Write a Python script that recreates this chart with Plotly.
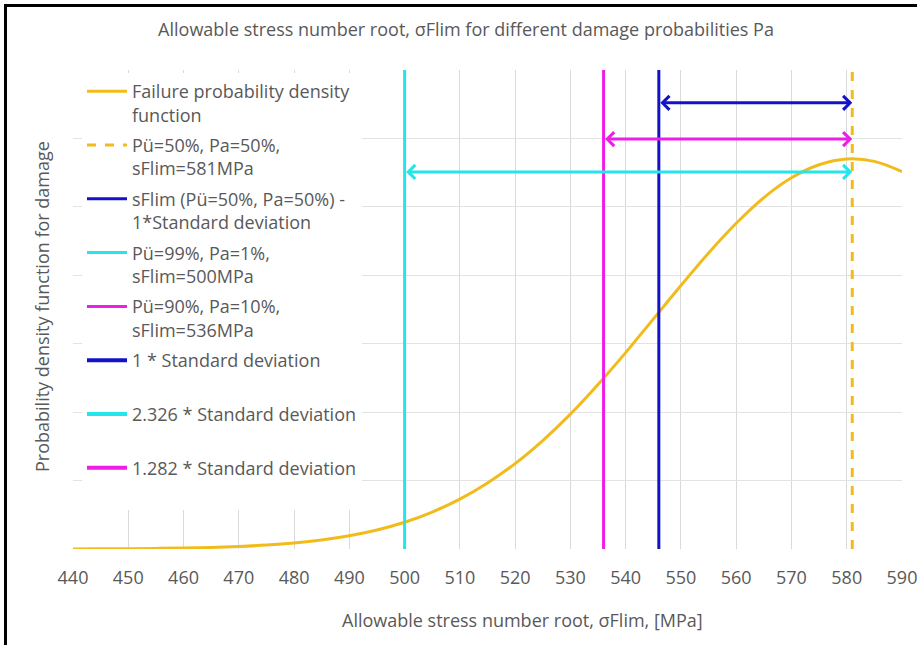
import plotly.graph_objects as go

# ---- data ----
stress_mpa = [440, 445, 450, 455, 460, 465, 470, 475, 480, 485, 490, 495, 500, 505, 510,
              515, 520, 525, 530, 535, 540, 545, 550, 555, 560, 565, 570, 575, 580, 585, 590]
density = [0.000003, 0.000006, 0.000010, 0.000018, 0.000029, 0.000047, 0.000075, 0.000116,
           0.000177, 0.000265, 0.000388, 0.000557, 0.000783, 0.00108, 0.001456, 0.00193,
           0.002496, 0.00317, 0.003942, 0.00481, 0.00574, 0.00672, 0.0077, 0.00865, 0.00952,
           0.01027, 0.01085, 0.01123, 0.0114, 0.01133, 0.01103]

sflim_50 = 581
sflim_1sd = 546
sflim_1 = 500
sflim_10 = 536

arrow_levels = {"blue": 0.01304, "magenta": 0.01198, "cyan": 0.01102}

x_ticks = list(range(440, 591, 10))
y_range = [0, 0.014]

GOLD = "#F1BC1B"
BLUE = "#1212C8"
CYAN = "#22E6EA"
MAGENTA = "#EE1EE6"
GREY = "#595959"
FONT = "Open Sans"

fig = go.Figure()

fig.add_trace(go.Scatter(x=stress_mpa, y=density, mode="lines", line=dict(color=GOLD, width=3, shape="spline"),
                         name="Failure probability density<br>function", legendgroup="a"))
fig.add_trace(go.Scatter(x=[sflim_50, sflim_50], y=y_range, mode="lines", line=dict(color=GOLD, width=3, dash="dash"),
                         name="Pü=50%, Pa=50%,<br>sFlim=581MPa", legendgroup="b"))
fig.add_trace(go.Scatter(x=[sflim_1sd, sflim_1sd], y=y_range, mode="lines", line=dict(color=BLUE, width=3),
                         name="sFlim (Pü=50%, Pa=50%) -<br>1*Standard deviation", legendgroup="c"))
fig.add_trace(go.Scatter(x=[sflim_1, sflim_1], y=y_range, mode="lines", line=dict(color=CYAN, width=3),
                         name="Pü=99%, Pa=1%,<br>sFlim=500MPa", legendgroup="d"))
fig.add_trace(go.Scatter(x=[sflim_10, sflim_10], y=y_range, mode="lines", line=dict(color=MAGENTA, width=3),
                         name="Pü=90%, Pa=10%,<br>sFlim=536MPa", legendgroup="e"))
for nm, col, g in [("1 * Standard deviation", BLUE, "f"),
                   ("2.326 * Standard deviation", CYAN, "g"),
                   ("1.282 * Standard deviation", MAGENTA, "h")]:
    fig.add_trace(go.Scatter(x=[None], y=[None], mode="lines", line=dict(color=col, width=4),
                             name=nm + "<br> ", legendgroup=g))

# double arrows
for start, key, col in [(sflim_1sd, "blue", BLUE), (sflim_10, "magenta", MAGENTA), (sflim_1, "cyan", CYAN)]:
    fig.add_annotation(x=sflim_50, y=arrow_levels[key], ax=start, ay=arrow_levels[key],
                       xref="x", yref="y", axref="x", ayref="y", text="",
                       showarrow=True, arrowhead=4, startarrowhead=4, arrowside="end+start",
                       arrowsize=0.9, startarrowsize=0.9, arrowwidth=3, arrowcolor=col)

W, H = 917, 645
ml, mr, mt, mb = 73, 15, 70, 96
pw, ph = W - ml - mr, H - mt - mb

def px(xp):
    return (xp - ml) / pw

def py(yp):
    return (H - mb - yp) / ph

fig.add_annotation(text="Probability density function for damage", xref="paper", yref="paper",
                   x=px(42), y=py(307), textangle=-90, showarrow=False,
                   xanchor="center", yanchor="middle",
                   font=dict(family=FONT, size=18, color=GREY))
fig.add_annotation(text="Allowable stress number root, σFlim, [MPa]", xref="paper", yref="paper",
                   x=px(522), y=py(620), showarrow=False,
                   xanchor="center", yanchor="middle",
                   font=dict(family=FONT, size=18, color=GREY))

# outer frame of the chart: only its left and top edges are inside the picture
fig.add_shape(type="line", xref="paper", yref="paper", x0=px(5.5), x1=px(5.5), y0=py(H), y1=py(4),
              line=dict(color="black", width=3), layer="above")
fig.add_shape(type="line", xref="paper", yref="paper", x0=px(4), x1=px(W), y0=py(5.5), y1=py(5.5),
              line=dict(color="black", width=3), layer="above")

fig.update_layout(
    width=W, height=H,
    margin=dict(l=ml, r=mr, t=mt, b=mb, autoexpand=False),
    paper_bgcolor="white", plot_bgcolor="white",
    title=dict(text="Allowable stress number root, σFlim for different damage probabilities Pa",
               x=466 / W, y=1 - 30 / H, xanchor="center", yanchor="middle",
               font=dict(family=FONT, size=18, color=GREY)),
    xaxis=dict(range=[440, 590], tickvals=x_ticks, showgrid=True, gridcolor="#D9D9D9", gridwidth=1,
               zeroline=False, showline=False, ticks="", ticklabelstandoff=16,
               ticklabeloverflow="allow", automargin=False,
               tickfont=dict(family=FONT, size=18, color=GREY)),
    yaxis=dict(range=y_range, dtick=0.002, showgrid=True, gridcolor="#E3E3E3", gridwidth=1,
               zeroline=False, showline=False, showticklabels=False, ticks="", automargin=False),
    legend=dict(x=px(82), y=py(73), xanchor="left", yanchor="top", bgcolor="white",
                font=dict(family=FONT, size=18, color=GREY), valign="top", tracegroupgap=4,
                itemwidth=40),
    showlegend=True,
)

fig.write_html("out.html", config={"displayModeBar": False},
               post_script="document.body.style.margin='0';")
